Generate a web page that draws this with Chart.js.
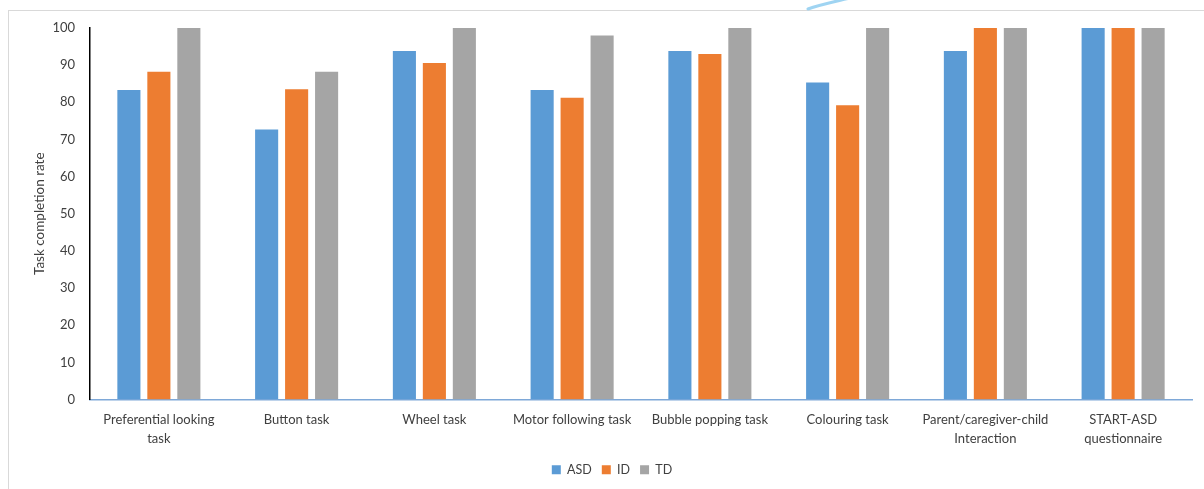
<!DOCTYPE html>
<html>
<head>
<meta charset="utf-8">
<script src="https://cdn.jsdelivr.net/npm/chart.js@4"></script>
<style>
  html, body { margin: 0; padding: 0; background: #ffffff; }
  #wrap { position: relative; width: 1204px; height: 489px; overflow: hidden; }
  #frame { position: absolute; left: 8px; top: 10px; width: 1220px; height: 500px; border: 1px solid #d9d9d9; box-sizing: border-box; }
  #swoosh { position: absolute; left: 0; top: 0; }
  canvas { position: absolute; left: 0; top: 0; }
</style>
</head>
<body>
<div id="wrap">
  <div id="frame"></div>
  <svg id="swoosh" width="1204" height="20">
    <path d="M808 9 C 822 4, 838 1, 850 -2" stroke="#9fd4f2" stroke-width="3" fill="none" stroke-linecap="round"/>
  </svg>
  <canvas id="chart" width="1204" height="489"></canvas>
</div>
<script>
// Task categories (multi-line labels)
const categories = [
  ["Preferential looking", "task"],
  "Button task",
  "Wheel task",
  "Motor following task",
  "Bubble popping task",
  "Colouring task",
  ["Parent/caregiver-child", "Interaction"],
  ["START-ASD", "questionnaire"]
];

// Completion rate (%) per group
const asdValues = [83.3, 72.7, 93.8, 83.3, 93.8, 85.3, 93.8, 100];
const idValues  = [88.2, 83.5, 90.6, 81.2, 93.0, 79.2, 100, 100];
const tdValues  = [100, 88.2, 100, 98.0, 100, 100, 100, 100];

const yTicks = [0, 10, 20, 30, 40, 50, 60, 70, 80, 90, 100];

const FONT = "Lato, 'Liberation Sans', sans-serif";
const TEXT = "#404040";

new Chart(document.getElementById("chart"), {
  type: "bar",
  data: {
    labels: categories,
    datasets: [
      { label: "ASD", data: asdValues, backgroundColor: "#5b9bd5" },
      { label: "ID",  data: idValues,  backgroundColor: "#ed7d31" },
      { label: "TD",  data: tdValues,  backgroundColor: "#a5a5a5" }
    ]
  },
  options: {
    responsive: false,
    animation: false,
    devicePixelRatio: 1,
    datasets: { bar: { categoryPercentage: 0.653, barPercentage: 0.77 } },
    layout: { padding: { left: 32, right: 12, top: 28, bottom: 3 } },
    plugins: {
      tooltip: { enabled: false },
      legend: {
        position: "bottom",
        labels: {
          boxWidth: 9, boxHeight: 9, padding: 10,
          color: TEXT,
          font: { family: FONT, size: 12.5 }
        }
      }
    },
    scales: {
      x: {
        grid: { display: false, drawTicks: false },
        border: { display: true, color: "#7ea8d8", width: 1.5 },
        ticks: {
          color: TEXT, font: { family: FONT, size: 13, lineHeight: 1.45 },
          padding: 11, maxRotation: 0, autoSkip: false
        },
        afterFit: (s) => { s.height = 54; }
      },
      y: {
        min: 0, max: 100,
        grid: { display: false, drawTicks: false },
        border: { display: true, color: "#000000", width: 1.5 },
        afterBuildTicks: (s) => { s.ticks = yTicks.map(v => ({ value: v })); },
        ticks: { color: TEXT, font: { family: FONT, size: 13 }, padding: 15 },
        title: {
          display: true, text: "Task completion rate",
          color: TEXT, font: { family: FONT, size: 13.5 },
          padding: { top: 0, bottom: 0 }
        },
        afterFit: (s) => { s.width = 58; }
      }
    }
  }
});
</script>
</body>
</html>
